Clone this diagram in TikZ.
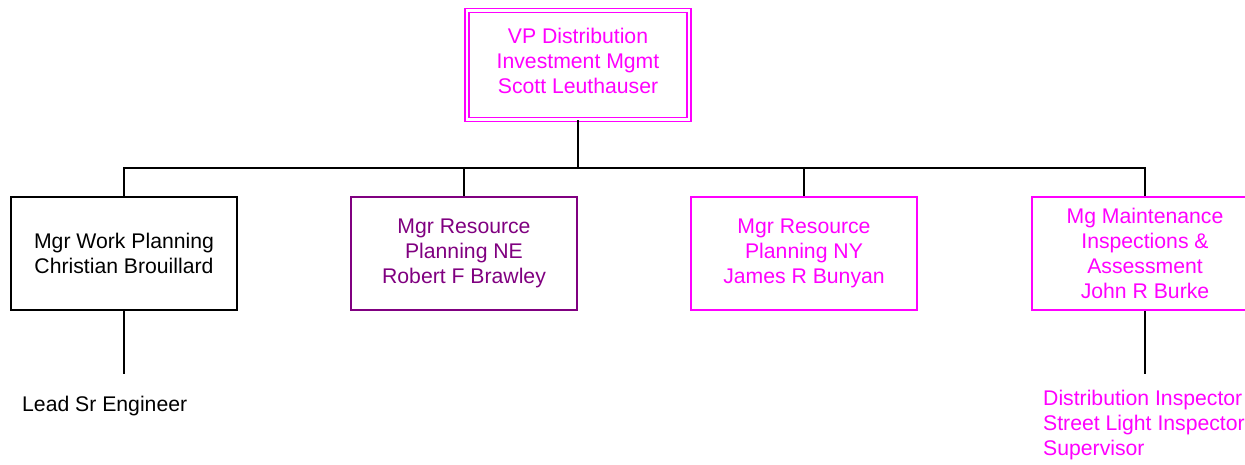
\documentclass[tikz,border=0pt]{standalone}
\usepackage{fontspec}
\setmainfont{Liberation Sans}
\definecolor{vpmag}{RGB}{255,0,255}
\definecolor{nepurple}{RGB}{128,0,128}
\tikzset{
  orgbox/.style={draw=#1, text=#1, line width=1.8pt, align=center,
    inner sep=0pt, minimum width=226pt, minimum height=113pt,
    font=\fontsize{21.2}{25}\selectfont},
  staff/.style={text=#1, align=left, anchor=west, inner sep=0pt,
    font=\fontsize{21.2}{25}\selectfont},
  link/.style={line width=2pt, black}
}

\begin{document}
\begin{tikzpicture}[x=1pt,y=-1pt]
\useasboundingbox (0,0) rectangle (1245,465);
% top of the chart
\node[orgbox=vpmag, double, double distance=2.6pt, line width=1.3pt,
  minimum width=222pt, minimum height=109pt, text depth=9pt] (vp) at (578,65)
  {VP Distribution\\Investment Mgmt\\Scott Leuthauser};
\coordinate (bus) at (578,168);
% managers
\node[orgbox=black] (workplan) at (124,253.5) {Mgr Work Planning\\Christian Brouillard};
\node[orgbox=nepurple] (resne) at (464,253.5) {Mgr Resource\\Planning NE\\Robert F Brawley};
\node[orgbox=vpmag] (resny) at (804,253.5) {Mgr Resource\\Planning NY\\James R Bunyan};
\node[orgbox=vpmag] (maint) at (1145,253.5) {Mg Maintenance\\Inspections \&\\Assessment\\John R Burke};
% staff lists
\coordinate (wpend) at (124,374);
\coordinate (mtend) at (1145,374);
\node[staff=black] (lead) at (22,406) {Lead Sr Engineer};
\node[staff=vpmag] (insp) at (1043,425) {Distribution Inspector\\Street Light Inspector\\Supervisor};
% connectors
\draw[link] (vp.south) -- (bus);
\draw[link] (workplan.north) |- (bus);
\draw[link] (resne.north) |- (bus);
\draw[link] (resny.north) |- (bus);
\draw[link] (maint.north) |- (bus);
\draw[link] (workplan.south) -- (wpend);
\draw[link] (maint.south) -- (mtend);
\end{tikzpicture}
\end{document}
